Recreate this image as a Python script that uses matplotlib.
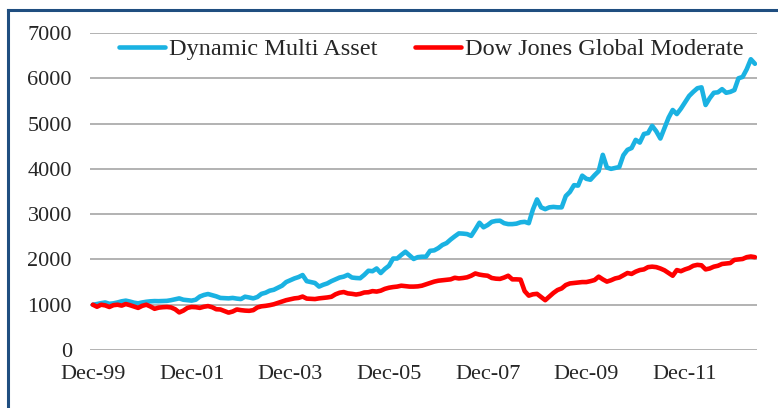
import numpy as np
import matplotlib
matplotlib.use('Agg')
import matplotlib.pyplot as plt
from matplotlib.lines import Line2D

# monthly index values, Dec-99 .. May-13
dynamic = [1000, 1015, 1035, 1050, 1020, 1030, 1050, 1075, 1090, 1070,
           1045, 1030, 1050, 1065, 1075, 1080, 1078, 1082, 1085, 1100,
           1120, 1140, 1110, 1100, 1090, 1110, 1180, 1215, 1236, 1210,
           1185, 1150, 1145, 1140, 1150, 1135, 1125, 1177, 1160, 1140,
           1170, 1240, 1265, 1310, 1330, 1375, 1420, 1500, 1540, 1580,
           1610, 1655, 1520, 1500, 1480, 1400, 1440, 1470, 1520, 1560,
           1600, 1620, 1660, 1600, 1590, 1585, 1660, 1750, 1740, 1800,
           1700, 1790, 1860, 2020, 2020, 2100, 2170, 2090, 2010, 2050,
           2060, 2060, 2190, 2200, 2250, 2320, 2360, 2440, 2510, 2575,
           2570, 2560, 2520, 2660, 2810, 2710, 2760, 2830, 2850, 2855,
           2800, 2780, 2780, 2790, 2820, 2830, 2800, 3100, 3325, 3150,
           3110, 3150, 3160, 3150, 3150, 3400, 3490, 3640, 3630, 3850,
           3780, 3760, 3860, 3950, 4310, 4030, 4000, 4020, 4040, 4300,
           4420, 4460, 4640, 4580, 4770, 4790, 4950, 4830, 4670, 4900,
           5130, 5300, 5210, 5330, 5470, 5610, 5700, 5780, 5800, 5410,
           5560, 5680, 5690, 5760, 5680, 5700, 5740, 6000, 6030, 6200,
           6420, 6320]

dj_moderate = [1000, 955, 1000, 985, 950, 990, 1000, 980, 1015, 990,
               960, 930, 975, 1000, 960, 910, 935, 945, 950, 940,
               900, 830, 870, 930, 950, 945, 930, 955, 970, 945,
               900, 895, 860, 825, 850, 895, 880, 870, 865, 880,
               940, 965, 975, 990, 1010, 1040, 1070, 1100, 1120, 1140,
               1150, 1180, 1135, 1130, 1125, 1140, 1150, 1160, 1175, 1230,
               1265, 1280, 1250, 1240, 1225, 1240, 1270, 1275, 1300, 1290,
               1310, 1350, 1375, 1390, 1400, 1420, 1410, 1400, 1400, 1405,
               1420, 1450, 1480, 1510, 1530, 1540, 1550, 1560, 1595, 1580,
               1590, 1605, 1640, 1690, 1665, 1650, 1640, 1590, 1575, 1570,
               1600, 1640, 1560, 1560, 1555, 1300, 1200, 1230, 1240, 1170,
               1100, 1180, 1260, 1325, 1360, 1435, 1470, 1480, 1490, 1500,
               1500, 1520, 1545, 1620, 1560, 1510, 1540, 1580, 1600, 1650,
               1700, 1680, 1730, 1765, 1780, 1830, 1840, 1830, 1800, 1760,
               1700, 1640, 1765, 1740, 1780, 1810, 1860, 1880, 1870, 1780,
               1800, 1840, 1860, 1900, 1910, 1920, 1990, 2000, 2010, 2050,
               2065, 2050]

tick_pos = [0, 24, 48, 72, 96, 120, 144]
tick_labels = ['Dec-99', 'Dec-01', 'Dec-03', 'Dec-05', 'Dec-07', 'Dec-09', 'Dec-11']
yticks = [0, 1000, 2000, 3000, 4000, 5000, 6000, 7000]

plt.rcParams['font.family'] = ['Liberation Serif', 'DejaVu Serif']

fig = plt.figure(figsize=(7.78, 4.08), dpi=100)
ax = fig.add_axes([90/778, 1-350/408, (757-90)/778, (350-33)/408])

x = np.arange(len(dynamic))
ax.plot(x, dynamic, color='#1ab2e2', lw=3.3, label='Dynamic Multi Asset', solid_capstyle='round')
ax.plot(x, dj_moderate, color='#ff0000', lw=3.3, label='Dow Jones Global Moderate', solid_capstyle='round')

ax.set_ylim(0, 7000)
ax.set_xlim(-0.7, 161.5)
ax.set_yticks(yticks)
ax.set_xticks(tick_pos)
ax.set_xticklabels(tick_labels)
ax.yaxis.grid(True, color='#a6a6a6', lw=1.2)
ax.set_axisbelow(True)
for s in ax.spines.values():
    s.set_visible(False)
ax.tick_params(axis='both', length=0, labelsize=16, colors='#262626')
ax.tick_params(axis='y', pad=13)
ax.tick_params(axis='x', pad=11)

leg = fig.legend(loc='upper left', bbox_to_anchor=(119/778, 1-38/408), ncol=2,
                 frameon=False, fontsize=17.5, handlelength=1.9, handletextpad=0.15,
                 columnspacing=1.55, borderpad=0, borderaxespad=0)
for t in leg.get_texts():
    t.set_color('#262626')

# partial frame of the original picture (top and left edges)
fig.add_artist(Line2D([8/778, 1], [1-10/408, 1-10/408], color='#1f4e80', lw=2.2,
                      transform=fig.transFigure))
fig.add_artist(Line2D([8/778, 8/778], [0, 1-10/408], color='#1f4e80', lw=2.2,
                      transform=fig.transFigure))

fig.savefig('out.png', dpi=100)
